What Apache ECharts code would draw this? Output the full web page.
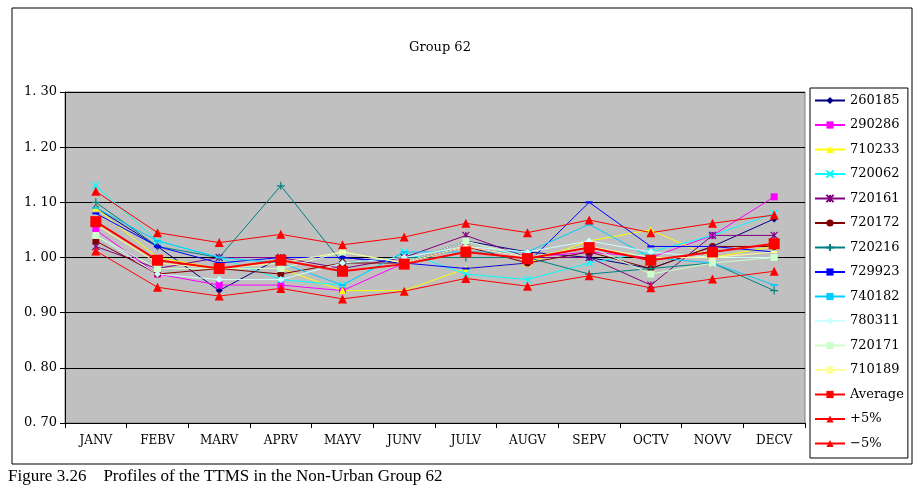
<!DOCTYPE html><html><head><meta charset="utf-8"><script src="https://cdn.jsdelivr.net/npm/echarts@6/dist/echarts.min.js"></script>
<style>body{margin:0;background:#fff}#c{width:923px;height:488px}</style></head><body><div id="c"></div><script>
const categories=['JANV','FEBV','MARV','APRV','MAYV','JUNV','JULV','AUGV','SEPV','OCTV','NOVV','DECV'];
const s260185=[1.09,1.02,0.94,1.00,1.00,0.99,1.03,1.01,1.00,0.98,1.02,1.07];
const s290286=[1.05,0.97,0.95,0.95,0.94,0.99,1.02,1.00,1.01,1.00,1.04,1.11];
const s710233=[1.09,1.00,0.98,0.98,0.94,0.94,0.98,0.99,1.03,1.05,1.00,1.02];
const s720062=[1.13,1.03,1.00,0.96,0.95,1.01,0.97,0.96,0.99,1.01,1.04,1.08];
const s720161=[1.02,0.98,1.00,1.00,0.98,1.00,1.04,1.00,1.00,0.95,1.04,1.04];
const s720172=[1.03,0.97,0.98,0.97,0.99,0.99,1.02,0.99,1.01,0.98,1.02,1.02];
const s720216=[1.10,1.02,1.00,1.13,0.99,1.00,1.00,1.00,0.97,0.98,0.99,0.94];
const s729923=[1.08,1.02,0.99,1.00,1.00,0.99,0.98,0.99,1.10,1.02,1.02,1.01];
const s740182=[1.09,1.03,1.00,0.99,0.95,1.01,1.01,1.01,1.06,1.00,0.99,0.95];
const s780311=[1.04,0.97,0.96,0.96,0.99,1.00,1.02,1.01,1.03,1.01,1.00,1.00];
const s720171=[1.04,0.98,0.98,0.98,1.01,0.99,1.03,1.00,1.02,0.97,0.99,1.00];
const s710189=[1.06,0.99,0.98,0.99,1.01,0.99,1.02,1.00,1.02,1.00,1.00,1.01];
const average=[1.065,0.995,0.98,0.995,0.975,0.988,1.01,0.998,1.018,0.995,1.01,1.025];
const plus5=[1.12,1.045,1.027,1.042,1.023,1.037,1.062,1.045,1.068,1.045,1.062,1.077];
const minus5=[1.012,0.946,0.93,0.944,0.925,0.939,0.962,0.948,0.967,0.945,0.961,0.975];
const yTicks=[0.70,0.80,0.90,1.00,1.10,1.20,1.30];
const defs=[
['260185',s260185,'#000080','diamond',7],
['290286',s290286,'#ff00ff','rect',7],
['710233',s710233,'#ffff00','triangle',7],
['720062',s720062,'#00ffff','path://M0,0L10,10M10,0L0,10',7],
['720161',s720161,'#800080','path://M0,0L10,10M10,0L0,10M5,0L5,10',7],
['720172',s720172,'#800000','circle',7],
['720216',s720216,'#008080','path://M5,0L5,10M0,5L10,5',8],
['729923',s729923,'#0000ff','rect',[7,2]],
['740182',s740182,'#00ccff','rect',[7,2]],
['780311',s780311,'#ccffff','diamond',7],
['720171',s720171,'#ccffcc','rect',7],
['710189',s710189,'#ffff99','rect',[7,2]],
['Average',average,'#ff0000','rect',11],
['+5%',plus5,'#ff0000','triangle',9],
['−5%',minus5,'#ff0000','triangle',9]];
const font='"DejaVu Serif","Liberation Serif",serif';
const series=defs.map(d=>({name:d[0],type:'line',data:d[1],symbol:d[3],symbolSize:d[4],
 lineStyle:{color:d[2],width:d[0]==='Average'?2:1},itemStyle:{color:d[2],borderColor:d[2],borderWidth:d[3].startsWith('path')?1.2:0},
 emphasis:{disabled:true},z:d[0]==='Average'?5:2}));
const c=echarts.init(document.getElementById('c'));
c.setOption({animation:false,backgroundColor:'#fff',
title:{text:'Group 62',left:435,top:36,textAlign:'center',textStyle:{fontFamily:font,fontSize:13,fontWeight:'normal',color:'#000'}},
grid:{left:65,right:118,top:92,bottom:65,show:true,backgroundColor:'#c0c0c0',borderColor:'#808080',borderWidth:1},
xAxis:{type:'category',data:categories,boundaryGap:true,axisLine:{lineStyle:{color:'#000'}},axisTick:{show:true,lineStyle:{color:'#000'}},
 axisLabel:{fontFamily:font,fontSize:12,color:'#000',margin:12}},
yAxis:{type:'value',min:0.7,max:1.3,interval:0.1,axisLine:{show:true,lineStyle:{color:'#000'}},axisTick:{show:true,inside:false,lineStyle:{color:'#000'}},
 splitLine:{lineStyle:{color:'#000'}},axisLabel:{fontFamily:font,fontSize:13,color:'#000',formatter:v=>v.toFixed(2).replace('.','. ')}},
legend:{orient:'vertical',left:810,top:88,itemGap:11.5,itemWidth:30,itemHeight:9,backgroundColor:'#fff',borderColor:'#000',borderWidth:1,padding:[6,4,8,4],
 textStyle:{fontFamily:font,fontSize:13,color:'#000'},data:defs.map(d=>d[0])},
graphic:[{type:'rect',shape:{x:12,y:8,width:900,height:456},style:{fill:'none',stroke:'#000',lineWidth:1},z:-1},
{type:'text',left:8,top:468,style:{text:'Figure 3.26    Profiles of the TTMS in the Non-Urban Group 62',font:'17px "Liberation Serif",serif',fill:'#000'}}],
series});
</script></body></html>
